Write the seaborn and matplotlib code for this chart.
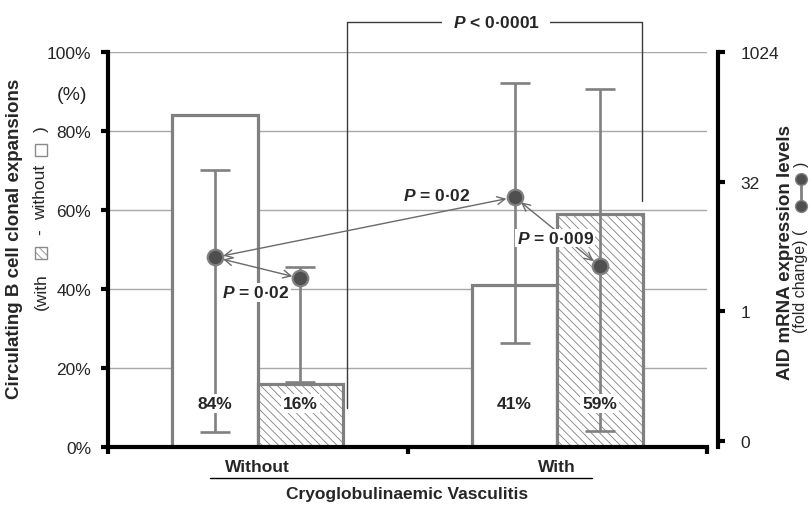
import numpy as np
import pandas as pd
import matplotlib
matplotlib.use("Agg")
import matplotlib.pyplot as plt
import seaborn as sns
from matplotlib.patches import Rectangle
from matplotlib.lines import Line2D
from matplotlib.ticker import NullLocator

# ---------------- data ----------------
groups = ["Without", "With"]
expansion = ["without", "with"]
pct_without_group = [84, 16]     # [without expansions, with expansions]
pct_with_group = [41, 59]
pct_labels = ["84%", "16%", "41%", "59%"]
aid_fold = [4.2, 2.4, 21.1, 3.3]          # order: Without/-, Without/+, With/-, With/+
aid_low = [0.039, 0.15, 0.42, 0.040]
aid_high = [43.4, 3.25, 446, 380]
pct_ticks = [0, 20, 40, 60, 80, 100]
pct_ticklabels = ["0%", "20%", "40%", "60%", "80%", "100%"]
aid_ticks = [1 / 32, 1, 32, 1024]
aid_ticklabels = ["0", "1", "32", "1024"]
pvals = ["0·02", "0·02", "0·009"]
p_overall = "0·0001"

EDGE = "#808080"
FS = 12.5

sns.set_theme(style="white")
plt.rcParams["font.family"] = ["Liberation Sans", "DejaVu Sans"]
plt.rcParams["mathtext.fontset"] = "custom"
plt.rcParams["mathtext.it"] = "Liberation Sans:italic:bold"
plt.rcParams["mathtext.rm"] = "Liberation Sans:bold"
plt.rcParams["hatch.linewidth"] = 0.6

df = pd.DataFrame({
    "group": np.repeat(groups, 2),
    "expansion": expansion * 2,
    "pct": pct_without_group + pct_with_group,
})

W, H = 810, 506
fig = plt.figure(figsize=(W / 100, H / 100), dpi=100)
ax = fig.add_axes([108 / W, 1 - 448 / H, (707 - 108) / W, (448 - 53) / H])

sns.barplot(data=df, x="group", y="pct", hue="expansion", order=groups,
            hue_order=expansion, palette=["white", "white"], width=0.57,
            edgecolor=EDGE, linewidth=2.3, legend=False, ax=ax, zorder=2,
            saturation=1)
for rect in ax.containers[1]:
    rect.set_hatch("\\\\\\\\")

ax.set_xlabel("")
ax.set_ylabel("")
ax.set_ylim(0, 100)
ax.set_yticks(pct_ticks)
ax.set_yticklabels(pct_ticklabels)
ax.set_xticks([-0.5, 0.5, 1.5])
ax.set_xticklabels(["", "", ""])
ax.set_xticks([0, 1], minor=True)
ax.set_xticklabels(groups, minor=True, fontweight="bold")
ax.set_xlim(-0.5, 1.5)
ax.yaxis.grid(True, color="#a8a8a8", lw=1)
ax.set_axisbelow(True)
for s in ["top", "right"]:
    ax.spines[s].set_visible(False)
for s in ["left", "bottom"]:
    ax.spines[s].set_color("black")
    ax.spines[s].set_linewidth(3)
ax.tick_params(axis="y", which="major", direction="out", length=5, width=3,
               color="black", pad=7, left=True, labelsize=FS)
ax.tick_params(axis="x", which="major", direction="out", length=5, width=3,
               color="black", bottom=True)
ax.tick_params(axis="x", which="minor", length=0, pad=9, labelsize=FS)

# bar centres from seaborn's bars
c0 = [r.get_x() + r.get_width() / 2 for r in ax.containers[0]]
c1 = [r.get_x() + r.get_width() / 2 for r in ax.containers[1]]
xs = [c0[0], c1[0], c0[1], c1[1]]

# ---------------- right axis ----------------
ax2 = ax.twinx()
ax2.set_yscale("log", base=2)
ax2.set_ylim(2 ** -5.25, 2 ** 10)
ax2.set_yticks(aid_ticks)
ax2.set_yticklabels(aid_ticklabels)
ax2.yaxis.set_minor_locator(NullLocator())
for s in ["top", "left", "bottom"]:
    ax2.spines[s].set_visible(False)
ax2.spines["right"].set_position(("outward", 8))
ax2.spines["right"].set_color("black")
ax2.spines["right"].set_linewidth(3)
ax2.tick_params(axis="y", which="major", direction="out", length=5, width=3,
                color="black", pad=11, right=True, labelsize=FS)

fold = np.array(aid_fold)
ax2.errorbar(xs, fold, yerr=[fold - np.array(aid_low), np.array(aid_high) - fold],
             fmt="none", ecolor=EDGE, elinewidth=1.9, capsize=11, capthick=1.9,
             zorder=3)

arrow_kw = dict(arrowstyle="<->", color="#6a6a6a", lw=1, shrinkA=6, shrinkB=6,
                mutation_scale=14)
for i, j in [(0, 1), (0, 2), (2, 3)]:
    ax2.annotate("", xy=(xs[j], fold[j]), xytext=(xs[i], fold[i]),
                 arrowprops=arrow_kw, zorder=3.5)

sns.scatterplot(x=xs, y=fold, ax=ax2, s=125, color="#4f4f4f", edgecolor=EDGE,
                linewidth=1.6, zorder=4, legend=False)

# value labels in bars
for x, lab in zip(xs, pct_labels):
    ax2.text(x, 11, lab, transform=ax.transData, ha="center", va="center",
             fontsize=FS, fontweight="bold", zorder=6,
             bbox=dict(fc="white", ec="none", pad=1.5))

# p-value labels
p_pos = [(0.597, 63.8), (-0.007, 39.2), (0.993, 52.9)]
for (px, py), pv in zip(p_pos, pvals):
    ax2.text(px, py, r"$P$ = " + pv, transform=ax.transData, ha="center",
             va="center", fontsize=FS, fontweight="bold", zorder=6,
             bbox=dict(fc="white", ec="none", pad=1))

# overall bracket
ax2.plot([0.297, 0.297, 1.283, 1.283], [10, 107.7, 107.7, 62.3],
         transform=ax.transData, color="#3a3a3a", lw=1, clip_on=False, zorder=2)
ax2.text(0.797, 107.7, r"$P$ < " + p_overall, transform=ax.transData,
         ha="center", va="center", fontsize=FS, fontweight="bold", zorder=6,
         clip_on=False, bbox=dict(boxstyle="square,pad=0.6", fc="white", ec="none"))

# ---------------- figure texts ----------------
def fx(px):
    return px / W

def fy(py):
    return 1 - py / H

fig.text(fx(72), fy(95), "(%)", fontsize=14, ha="center", va="center")
fig.text(fx(15), fy(239), "Circulating B cell clonal expansions", rotation=90,
         ha="center", va="center", fontsize=13.5, fontweight="bold")
fig.text(fx(41), fy(292), "(with", rotation=90, ha="center", va="center", fontsize=12.5)
fig.text(fx(41), fy(232), "-", rotation=90, ha="center", va="center", fontsize=12.5)
fig.text(fx(41), fy(192), "without", rotation=90, ha="center", va="center", fontsize=12.5)
fig.text(fx(41), fy(129), ")", rotation=90, ha="center", va="center", fontsize=12.5)
sq = 12
fig.add_artist(Rectangle((fx(41 - sq / 2), fy(254 + sq / 2)), sq / W, sq / H,
                         transform=fig.transFigure, fc="white", ec="#8a8a8a",
                         lw=1, hatch="\\\\\\\\"))
fig.add_artist(Rectangle((fx(41 - sq / 2), fy(151 + sq / 2)), sq / W, sq / H,
                         transform=fig.transFigure, fc="white", ec="#8a8a8a", lw=1))

fig.text(fx(785), fy(252), "AID mRNA expression levels", rotation=90,
         ha="center", va="center", fontsize=13.5, fontweight="bold")
fig.text(fx(801), fy(333), "(fold change) (", rotation=90, ha="center",
         va="bottom", fontsize=11.5)
fig.add_artist(Line2D([fx(801), fx(801)], [fy(207), fy(180)],
                      transform=fig.transFigure, color=EDGE, lw=2, marker="o",
                      ms=8.5, mfc="#4f4f4f", mec=EDGE))
fig.text(fx(801), fy(164), ")", rotation=90, ha="center", va="center", fontsize=11.5)

fig.add_artist(Line2D([fx(210), fx(592)], [fy(479), fy(479)],
                      transform=fig.transFigure, color="black", lw=1))
fig.text(fx(407), fy(495), "Cryoglobulinaemic Vasculitis", ha="center",
         va="center", fontsize=FS, fontweight="bold")

fig.savefig("out.png", dpi=100)
